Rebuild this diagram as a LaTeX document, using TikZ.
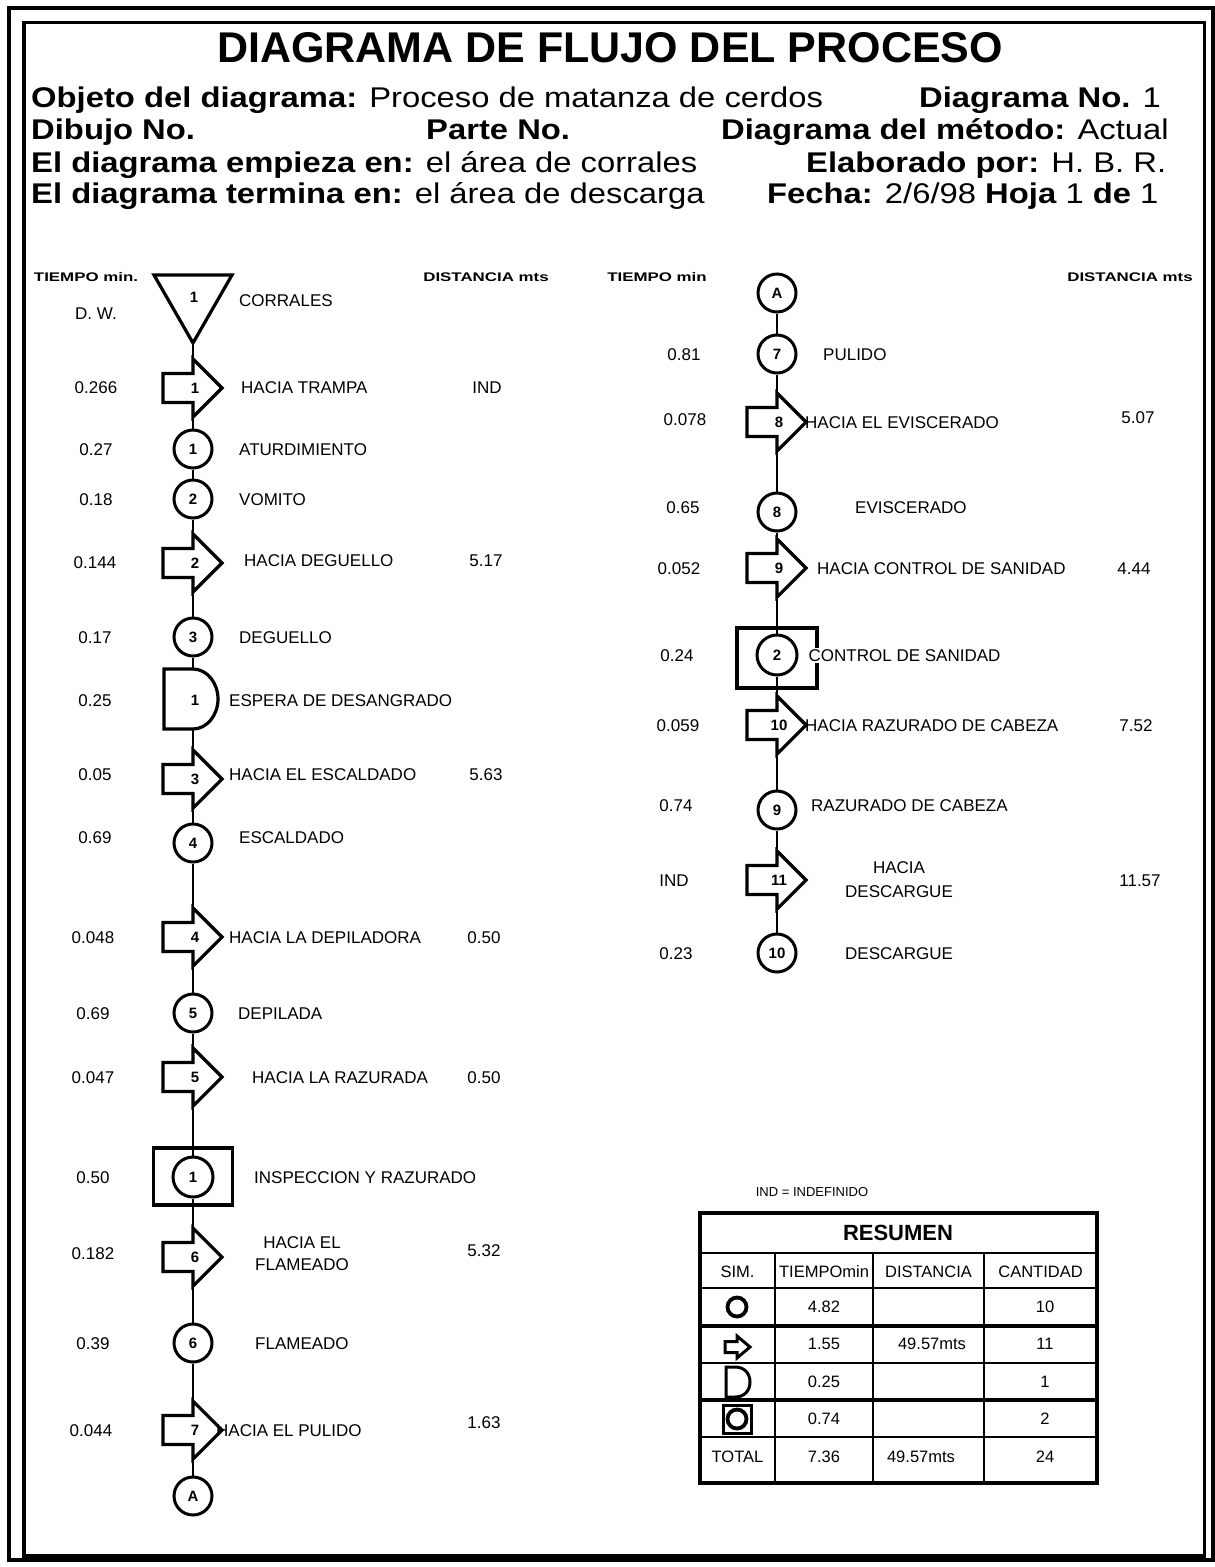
\documentclass[tikz,border=0pt]{standalone}
\usepackage{fontspec}
\setmainfont{Liberation Sans}
\newfontfamily\hdrfont[FakeStretch=1.15]{Liberation Sans}
\newfontfamily\widefont[FakeStretch=1.35]{Liberation Sans}
\newcommand\lblfont{\fontsize{17}{19}\selectfont}
\newcommand\numfont{\bfseries\fontsize{15}{17}\selectfont}
\newcommand\colfont{\widefont\bfseries\fontsize{12.5}{14}\selectfont}
\newcommand\hdfont{\hdrfont\fontsize{28.5}{32}\selectfont}
\newcommand\tblfont{\fontsize{16.5}{18}\selectfont}
\tikzset{
  sym/.style={line width=3.2pt},
  conn/.style={line width=1.6pt},
  circ/.style={circle, draw, line width=3pt, minimum size=38pt, inner sep=0pt, font=\numfont},
  lbl/.style={anchor=base west, yshift=-6.1pt, inner sep=0pt, font=\lblfont},
  num/.style={anchor=base, yshift=-6.1pt, inner sep=0pt, font=\lblfont},
  two/.style={align=center, inner sep=0pt, font=\fontsize{17}{22}\selectfont},
  symnum/.style={inner sep=0pt, font=\numfont},
  colhdr/.style={anchor=base, yshift=-4.5pt, inner sep=0pt, font=\colfont},
  hdr/.style={anchor=base west, yshift=-10.2pt, inner sep=0pt, font=\hdfont},
  tbl/.style={anchor=base, yshift=-5.9pt, inner sep=0pt, font=\tblfont},
  tsym/.style={line width=3pt},
  tcirc/.style={circle, draw, line width=3.8pt, minimum size=19pt, inner sep=0pt},
}
\newcommand\blockarrow[4]{%
  \draw[sym] ({#2-30},{#3-14.5}) -- (#2,{#3-14.5}) -- (#2,{#3-29}) -- ({#2+29},#3) -- (#2,{#3+29}) -- (#2,{#3+14.5}) -- ({#2-30},{#3+14.5}) -- cycle;
  \node[symnum] (#1) at ({#2+2},#3) {#4};
  \coordinate (#1t) at (#2,{#3-29});
  \coordinate (#1b) at (#2,{#3+29});
}
\begin{document}
\begin{tikzpicture}[x=1pt,y=-1pt]
\fill[white] (0,0) rectangle (1215,1567);
\useasboundingbox (0,0) rectangle (1215,1567);
% frames
\draw[line width=3.8pt] (9,8) rectangle (1213,1560);
\draw[line width=3.8pt] (24,22.5) rectangle (1204.5,1556);
% title and header
\node[inner sep=0pt, font=\bfseries\fontsize{43}{48}\selectfont] (title) at (610,48) {DIAGRAMA DE FLUJO DEL PROCESO};
\node[hdr] (h1a) at (31,97) {\textbf{Objeto del diagrama:} Proceso de matanza de cerdos};
\node[hdr] (h1b) at (919,97) {\textbf{Diagrama No.} 1};
\node[hdr] (h2a) at (31,129) {\textbf{Dibujo No.}};
\node[hdr] (h2b) at (426,129) {\textbf{Parte No.}};
\node[hdr] (h2c) at (721,129) {\textbf{Diagrama del método:} Actual};
\node[hdr] (h3a) at (31,162) {\textbf{El diagrama empieza en:} el área de corrales};
\node[hdr] (h3b) at (806,162) {\textbf{Elaborado por:} H. B. R.};
\node[hdr] (h4a) at (31,193) {\textbf{El diagrama termina en:} el área de descarga};
\node[hdr] (h4b) at (767,193) {\textbf{Fecha:} 2/6/98 \textbf{Hoja} 1 \textbf{de} 1};
% column headers
\node[colhdr] (tl) at (86,277) {TIEMPO min.};
\node[colhdr] (dl) at (486,277) {DISTANCIA mts};
\node[colhdr] (tr) at (657,277) {TIEMPO min};
\node[colhdr] (dr) at (1130,277) {DISTANCIA mts};
% ---------- left column ----------
\draw[sym] (154,275) -- (232,275) -- (193,343) -- cycle;
\coordinate (T1) at (193,343);
\node[symnum] (tri) at (194,297) {1};
\blockarrow{a1}{193}{388}{1}
\node[circ] (L1) at (193,449) {1};
\node[circ] (L2) at (193,499) {2};
\blockarrow{a2}{193}{563}{2}
\node[circ] (L3) at (193,637) {3};
\draw[sym] (164,669) -- (193,669) .. controls (207,669) and (218,683) .. (218,699) .. controls (218,715) and (207,729) .. (193,729) -- (164,729) -- cycle;
\coordinate (Dt) at (193,669);
\coordinate (Db) at (193,729);
\node[symnum] (D1) at (195,700) {1};
\blockarrow{a3}{193}{779}{3}
\node[circ] (L4) at (193,843) {4};
\blockarrow{a4}{193}{937}{4}
\node[circ] (L5) at (193,1013) {5};
\blockarrow{a5}{193}{1077}{5}
\draw[sym] (153.5,1148) rectangle (232.5,1205);
\node[circ, minimum size=40pt] (I1) at (193,1177) {1};
\blockarrow{a6}{193}{1257}{6}
\node[circ] (L6) at (193,1343) {6};
\blockarrow{a7}{193}{1430}{7}
\node[circ] (LA) at (193,1496) {A};
\draw[conn] (T1) -- (a1t);
\draw[conn] (a1b) -- (L1);
\draw[conn] (L1) -- (L2);
\draw[conn] (L2) -- (a2t);
\draw[conn] (a2b) -- (L3);
\draw[conn] (L3) -- (Dt);
\draw[conn] (Db) -- (a3t);
\draw[conn] (a3b) -- (L4);
\draw[conn] (L4) -- (a4t);
\draw[conn] (a4b) -- (L5);
\draw[conn] (L5) -- (a5t);
\draw[conn] (a5b) -- (I1);
\draw[conn] (I1) -- (a6t);
\draw[conn] (a6b) -- (L6);
\draw[conn] (L6) -- (a7t);
\draw[conn] (a7b) -- (LA);
% left labels
\node[lbl] (l1) at (239,300) {CORRALES};
\node[lbl] (l2) at (241,387) {HACIA TRAMPA};
\node[lbl] (l3) at (239,449) {ATURDIMIENTO};
\node[lbl] (l4) at (239,499) {VOMITO};
\node[lbl] (l5) at (244,560) {HACIA DEGUELLO};
\node[lbl] (l6) at (239,637) {DEGUELLO};
\node[lbl] (l7) at (229,700) {ESPERA DE DESANGRADO};
\node[lbl] (l8) at (229,774) {HACIA EL ESCALDADO};
\node[lbl] (l9) at (239,837) {ESCALDADO};
\node[lbl] (l10) at (229,937) {HACIA LA DEPILADORA};
\node[lbl] (l11) at (238,1013) {DEPILADA};
\node[lbl] (l12) at (252,1077) {HACIA LA RAZURADA};
\node[lbl] (l13) at (254,1177) {INSPECCION Y RAZURADO};
\node[two] (l14) at (302,1254) {HACIA EL\\FLAMEADO};
\node[lbl] (l15) at (255,1343) {FLAMEADO};
\node[lbl] (l16) at (216,1430) {HACIA EL PULIDO};
% left times
\node[num] (t0) at (96,313) {D. W.};
\node[num] (t1) at (96,387) {0.266};
\node[num] (t2) at (96,449) {0.27};
\node[num] (t3) at (96,499) {0.18};
\node[num] (t4) at (95,562) {0.144};
\node[num] (t5) at (95,637) {0.17};
\node[num] (t6) at (95,700) {0.25};
\node[num] (t7) at (95,774) {0.05};
\node[num] (t8) at (95,837) {0.69};
\node[num] (t9) at (93,937) {0.048};
\node[num] (t10) at (93,1013) {0.69};
\node[num] (t11) at (93,1077) {0.047};
\node[num] (t12) at (93,1177) {0.50};
\node[num] (t13) at (93,1253) {0.182};
\node[num] (t14) at (93,1343) {0.39};
\node[num] (t15) at (91,1430) {0.044};
% left distances
\node[num] (d1) at (487,387) {IND};
\node[num] (d2) at (486,560) {5.17};
\node[num] (d3) at (486,774) {5.63};
\node[num] (d4) at (484,937) {0.50};
\node[num] (d5) at (484,1077) {0.50};
\node[num] (d6) at (484,1250) {5.32};
\node[num] (d7) at (484,1422) {1.63};
% ---------- right column ----------
\node[circ] (RA) at (777,293) {A};
\node[circ] (R7) at (777,354) {7};
\blockarrow{a8}{777}{422}{8}
\node[circ] (R8) at (777,512) {8};
\blockarrow{a9}{777}{568}{9}
\draw[sym] (737,628) rectangle (817,688);
\node[circ, minimum size=40pt] (I2) at (777,655) {2};
\blockarrow{a10}{777}{725}{10}
\node[circ] (R9) at (777,810) {9};
\blockarrow{a11}{777}{880}{11}
\node[circ] (R10) at (777,953) {10};
\draw[conn] (RA) -- (R7);
\draw[conn] (R7) -- (a8t);
\draw[conn] (a8b) -- (R8);
\draw[conn] (R8) -- (a9t);
\draw[conn] (a9b) -- (I2);
\draw[conn] (I2) -- (a10t);
\draw[conn] (a10b) -- (R9);
\draw[conn] (R9) -- (a11t);
\draw[conn] (a11b) -- (R10);
% right labels
\node[lbl] (r1) at (823,354) {PULIDO};
\node[lbl] (r2) at (805,422) {HACIA EL EVISCERADO};
\node[lbl] (r3) at (855,507) {EVISCERADO};
\node[lbl] (r4) at (817,568) {HACIA CONTROL DE SANIDAD};
\node[lbl, fill=white, inner sep=1.5pt] (r5) at (807,655) {CONTROL DE SANIDAD};
\node[lbl] (r6) at (805,725) {HACIA RAZURADO DE CABEZA};
\node[lbl] (r7) at (811,805) {RAZURADO DE CABEZA};
\node[two, align=center] (r8) at (899,880) {HACIA\\[2pt]DESCARGUE};
\node[lbl] (r9) at (845,953) {DESCARGUE};
% right times
\node[num] (u1) at (684,354) {0.81};
\node[num] (u2) at (685,419) {0.078};
\node[num] (u3) at (683,507) {0.65};
\node[num] (u4) at (679,568) {0.052};
\node[num] (u5) at (677,655) {0.24};
\node[num] (u6) at (678,725) {0.059};
\node[num] (u7) at (676,805) {0.74};
\node[num] (u8) at (674,880) {IND};
\node[num] (u9) at (676,953) {0.23};
% right distances
\node[num] (e1) at (1138,417) {5.07};
\node[num] (e2) at (1134,568) {4.44};
\node[num] (e3) at (1136,725) {7.52};
\node[num] (e4) at (1140,880) {11.57};
% ---------- summary ----------
\node[anchor=base, yshift=-4.6pt, inner sep=0pt, font=\fontsize{13}{15}\selectfont] (ind) at (812,1192) {IND = INDEFINIDO};
\draw[line width=3.2pt] (700,1213) rectangle (1097,1483);
\draw[line width=2.4pt] (700,1253) -- (1097,1253);
\draw[line width=2.2pt] (700,1288) -- (1097,1288);
\draw[line width=4pt] (700,1326) -- (1097,1326);
\draw[line width=2.8pt] (700,1363) -- (1097,1363);
\draw[line width=4pt] (700,1400) -- (1097,1400);
\draw[line width=2.2pt] (700,1437) -- (1097,1437);
\foreach \xx in {775,873,984} \draw[line width=2.2pt] (\xx,1253) -- (\xx,1483);
\node[anchor=base, yshift=-7.9pt, inner sep=0pt, font=\bfseries\fontsize{22}{24}\selectfont] (res) at (898,1233) {RESUMEN};
\node[tbl] (hs) at (737.5,1272) {SIM.};
\node[tbl] (ht) at (824,1272) {TIEMPOmin};
\node[tbl] (hd) at (928.5,1272) {DISTANCIA};
\node[tbl] (hc) at (1040.5,1272) {CANTIDAD};
% symbols
\node[tcirc] (sO) at (737,1307) {};
\draw[tsym] (725,1341.5) -- (737,1341.5) -- (737,1336) -- (750,1347) -- (737,1358) -- (737,1352.5) -- (725,1352.5) -- cycle;
\draw[tsym] (726,1367) -- (735,1367) .. controls (745,1367) and (750,1374) .. (750,1382) .. controls (750,1390) and (745,1397) .. (735,1397) -- (726,1397) -- cycle;
\draw[tsym] (723,1405) rectangle (751,1433);
\node[tcirc] (sI) at (737,1419) {};
% values
\node[tbl] (v11) at (824,1307) {4.82};
\node[tbl] (v13) at (1045,1307) {10};
\node[tbl] (v21) at (824,1344) {1.55};
\node[tbl] (v22) at (932,1344) {49.57mts};
\node[tbl] (v23) at (1045,1344) {11};
\node[tbl] (v31) at (824,1382) {0.25};
\node[tbl] (v33) at (1045,1382) {1};
\node[tbl] (v41) at (824,1419) {0.74};
\node[tbl] (v43) at (1045,1419) {2};
\node[tbl] (v50) at (737.5,1457) {TOTAL};
\node[tbl] (v51) at (824,1457) {7.36};
\node[tbl] (v52) at (921,1457) {49.57mts};
\node[tbl] (v53) at (1045,1457) {24};
\end{tikzpicture}
\end{document}
